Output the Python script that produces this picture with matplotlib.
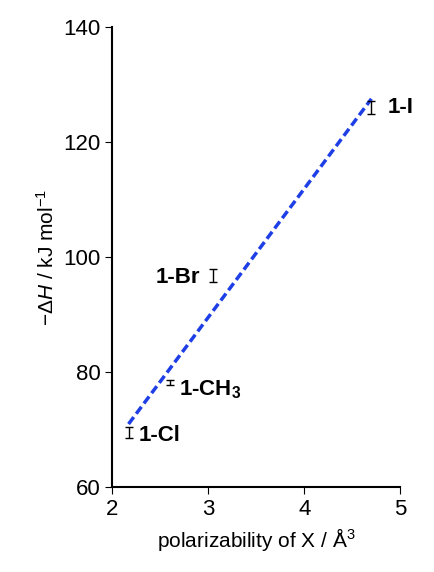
import matplotlib
matplotlib.use("Agg")
import matplotlib.pyplot as plt
import numpy as np

plt.rcParams['font.family'] = ['Liberation Sans', 'DejaVu Sans']
plt.rcParams['mathtext.fontset'] = 'custom'
plt.rcParams['mathtext.rm'] = 'Liberation Sans'
plt.rcParams['mathtext.it'] = 'Liberation Sans:italic'
plt.rcParams['mathtext.bf'] = 'Liberation Sans:bold'

labels = ['1-Cl', r'1-CH$_\mathbf{3}$', '1-Br', '1-I']
pol = [2.17, 2.6, 3.05, 4.7]
dH = [69.5, 78.2, 96.8, 126.0]
err = [1.0, 0.5, 1.2, 1.2]
fit_x = [2.17, 4.7]
fit_y = [71.0, 127.5]

fig = plt.figure(figsize=(4.35, 5.72), dpi=100)
ax = fig.add_axes([0.258, 0.148, 0.662, 0.805])
ax.plot(fit_x, fit_y, '--', color='#1f3fe6', lw=2.5, dashes=(2.5, 1.2))
ax.errorbar(pol, dH, yerr=err, fmt='none', ecolor='black', elinewidth=1, capsize=3)
ax.text(2.27, 69.0, labels[0], fontsize=16, weight='bold', va='center', ha='left')
ax.text(2.7, 77.0, labels[1], fontsize=16, weight='bold', va='center', ha='left')
ax.text(2.92, 96.5, labels[2], fontsize=16, weight='bold', va='center', ha='right')
ax.text(4.87, 126.0, labels[3], fontsize=16, weight='bold', va='center', ha='left')
ax.set_xlim(2, 5)
ax.set_ylim(60, 140)
ax.set_xticks([2, 3, 4, 5])
ax.set_yticks([60, 80, 100, 120, 140])
ax.tick_params(labelsize=16, direction='out', length=5)
for s in ['top', 'right']:
    ax.spines[s].set_visible(False)
ax.spines['left'].set_linewidth(1.5)
ax.spines['bottom'].set_linewidth(1.5)
ax.set_xlabel('polarizability of X / Å$^3$', fontsize=15)
ax.set_ylabel('−Δ$H$ / kJ mol$^{-1}$', fontsize=15)
fig.savefig('out.png', dpi=100)
